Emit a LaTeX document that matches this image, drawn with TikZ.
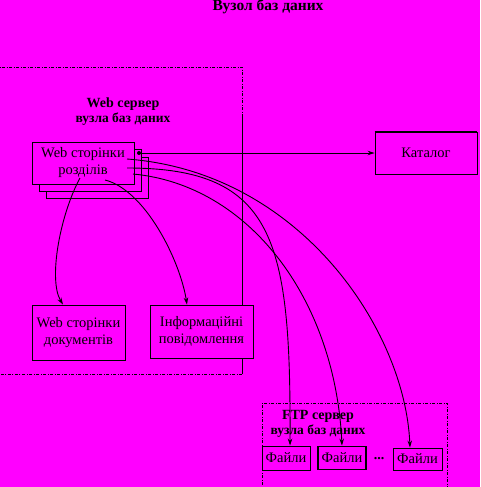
\documentclass[tikz,border=0pt]{standalone}
\usepackage{fontspec}
\setmainfont{Liberation Serif}
\usetikzlibrary{arrows.meta}
\definecolor{mag}{RGB}{255,0,255}
\begin{document}
\begin{tikzpicture}[x=1pt,y=-1pt,
  box/.style={draw, fill=mag, line width=0.9pt, inner sep=0pt, align=center, font=\fontsize{14.5}{17}\selectfont},
  grp/.style={line width=0.8pt, dash pattern=on 3pt off 1.5pt on 1pt off 1.5pt},
  lbl/.style={align=center, font=\bfseries\fontsize{14}{16}\selectfont},
  con/.style={line width=0.9pt, -{Stealth[length=7pt,width=4.5pt]}}
]
\fill[mag] (0,0) rectangle (480,487);
\useasboundingbox (0,0) rectangle (480,487);

% title
\node[font=\bfseries\fontsize{15.5}{17}\selectfont, inner sep=0pt] (title) at (268,7) {Вузол баз даних};

% web server group
\draw[grp] (-5,67) -- (242,67) -- (242,115);
\draw[grp] (242,374) -- (-5,374);
\draw[line width=0.9pt] (242,115) -- (242,374);
\node[lbl] (websrv) at (123,112) {Web сервер\\[-1pt]\fontsize{13.5}{15}\selectfont вузла баз даних};

% stacked web pages
\node[box, minimum width=102pt, minimum height=41pt] (pg3) at (97,177.5) {};
\node[box, minimum width=102pt, minimum height=42pt] (pg2) at (90,170) {};
\node[box, minimum width=102pt, minimum height=42pt] (pg1) at (83,163) {Web сторінки\\розділів};
\fill (139,153) circle (2pt);
\coordinate (dot) at (139,153);

% catalog
\node[box, minimum width=102pt, minimum height=42pt] (cat) at (426,153) {Каталог};
\draw[line width=1.8pt] (cat.north west) -- (cat.north east);
\draw[con] (dot) -- (cat.west);

% bottom boxes in web server
\node[box, minimum width=93pt, minimum height=55pt] (docs) at (78.5,332.5) {Web сторінки\\документів};
\node[box, minimum width=103pt, minimum height=53pt] (info) at (201.5,331.5) {Інформаційні\\повідомлення};

\coordinate (s1) at (80,178);
\coordinate (s2) at (105,180);
\draw[con] (s1) .. controls (60,215) and (48,280) .. (docs.north -| 63,0);
\draw[con] (s2) .. controls (145,190) and (180,260) .. (info.north -| 187,0);

% FTP server group
\draw[grp] (262,492) -- (262,403) -- (447,403) -- (447,492);
\node[lbl] (ftpsrv) at (318,424) {FTP сервер\\[-1pt]\fontsize{13.5}{15}\selectfont вузла баз даних};

\node[box, minimum width=48pt, minimum height=24pt] (f1) at (286,458) {Файли};
\node[box, line width=1.8pt, minimum width=48pt, minimum height=23pt] (f2) at (342,458) {Файли};
\node[font=\bfseries\fontsize{14}{17}\selectfont] (dots) at (379,459) {...};
\node[box, minimum width=49pt, minimum height=22pt] (f3) at (417.5,459) {Файли};

\coordinate (a1) at (127,159);
\coordinate (a2) at (127,168);
\coordinate (a3) at (133,174);
\draw[con] (a1) .. controls (300,172) and (405,330) .. (f3.north -| 410,0);
\draw[con] (a2) .. controls (275,168) and (291,240) .. (f1.north -| 290,0);
\draw[con] (a3) .. controls (250,185) and (335,300) .. (f2.north -| 342,0);
\end{tikzpicture}
\end{document}
